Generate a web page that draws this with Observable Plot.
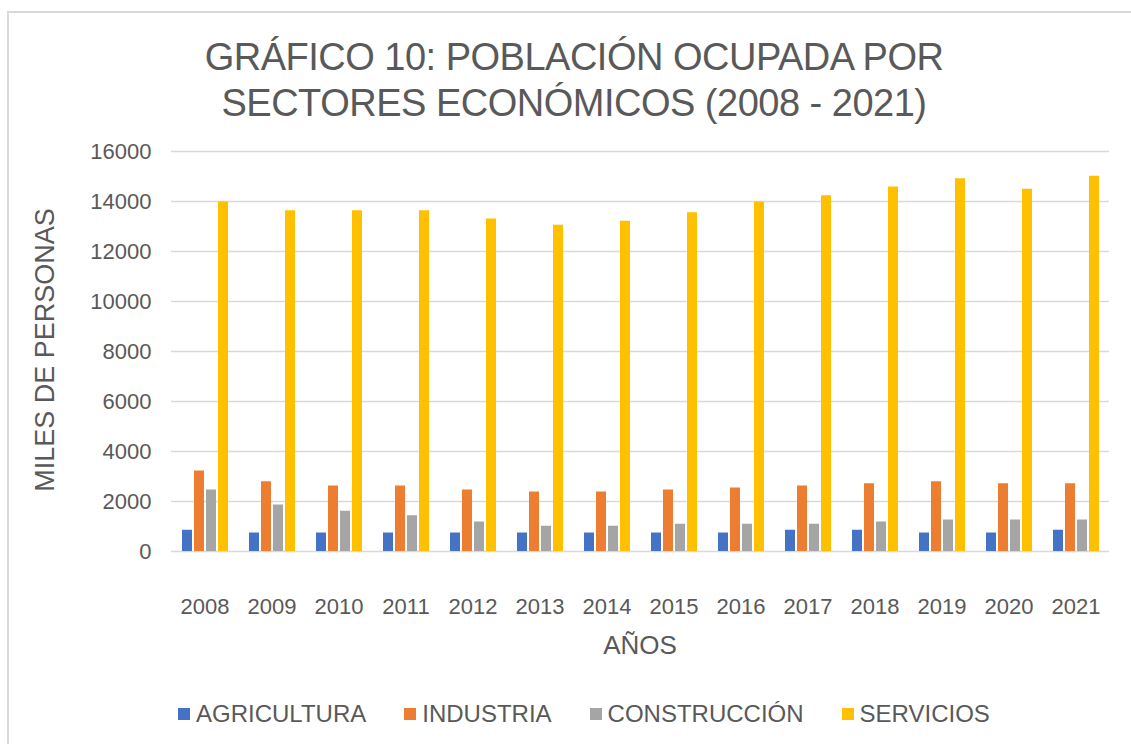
<!DOCTYPE html>
<html>
<head>
<meta charset="utf-8">
<script src="https://cdn.jsdelivr.net/npm/d3@7"></script>
<script src="https://cdn.jsdelivr.net/npm/@observablehq/plot@0.6"></script>
<style>
  html, body { margin: 0; padding: 0; background: #fff; }
  #wrap { position: relative; width: 1131px; height: 744px; overflow: hidden; font-family: "Liberation Sans", Arial, sans-serif; color: #595959; }
  #border { position: absolute; left: 7px; top: 11px; width: 1200px; height: 800px; border: 2px solid #d9d9d9; box-sizing: border-box; }
  #title { position: absolute; left: 0; top: 34px; width: 1148px; text-align: center; font-size: 38px; line-height: 46px; letter-spacing: -0.5px; }
  #ylabel { position: absolute; left: 45px; top: 350px; transform: translate(-50%, -50%) rotate(-90deg); font-size: 27px; white-space: nowrap; }
  #xlabel { position: absolute; left: 640px; top: 645px; transform: translate(-50%, -50%); font-size: 26px; white-space: nowrap; }
  #chart { position: absolute; left: 0; top: 140px; }
  #legend { position: absolute; left: 178px; top: 700px; display: flex; gap: 38px; font-size: 24px; align-items: center; }
  .item { display: flex; align-items: center; gap: 6px; }
  .sw { width: 12px; height: 12px; display: inline-block; }
</style>
</head>
<body>
<div id="wrap">
  <div id="border"></div>
  <div id="title">GRÁFICO 10: POBLACIÓN OCUPADA POR<br>SECTORES ECONÓMICOS (2008 - 2021)</div>
  <div id="ylabel">MILES DE PERSONAS</div>
  <div id="xlabel">AÑOS</div>
  <div id="chart"></div>
  <div id="legend"></div>
</div>
<script>
const years = ["2008","2009","2010","2011","2012","2013","2014","2015","2016","2017","2018","2019","2020","2021"];
const sectors = ["AGRICULTURA", "INDUSTRIA", "CONSTRUCCIÓN", "SERVICIOS"];
const colors = ["#4472C4", "#ED7D31", "#A5A5A5", "#FFC000"];
const agricultura  = [850, 740, 740, 740, 740, 740, 740, 740, 740, 850, 850, 740, 740, 850];
const industria    = [3220, 2790, 2620, 2620, 2460, 2380, 2380, 2460, 2540, 2620, 2710, 2790, 2710, 2710];
const construccion = [2460, 1860, 1610, 1430, 1180, 1010, 1010, 1090, 1090, 1090, 1180, 1260, 1260, 1260];
const servicios    = [13980, 13630, 13630, 13630, 13300, 13050, 13210, 13550, 13980, 14230, 14580, 14910, 14490, 15010];
const yTicks = [0, 2000, 4000, 6000, 8000, 10000, 12000, 14000, 16000];

const series = [agricultura, industria, construccion, servicios];
const data = years.flatMap((yr, i) => sectors.map((s, j) => ({year: yr, sector: s, value: series[j][i]})));

const chart = Plot.plot({
  width: 1131,
  height: 500,
  marginTop: 11,
  marginBottom: 89,
  marginLeft: 165,
  marginRight: 17,
  style: {fontFamily: "'Liberation Sans', Arial, sans-serif", fontSize: "22px", color: "#595959", background: "transparent"},
  fx: {domain: years, padding: 0, label: null, tickSize: 0, tickPadding: 47, axis: "bottom"},
  x: {domain: sectors, paddingInner: 0.17, paddingOuter: 0.8, axis: null},
  y: {domain: [0, 16000], ticks: yTicks, tickSize: 0, tickPadding: 20, label: null, tickFormat: d => String(d)},
  color: {domain: sectors, range: colors},
  marks: [
    Plot.gridY(yTicks, {stroke: "#d9d9d9", strokeOpacity: 1, strokeWidth: 1.5}),
    Plot.barY(data, {fx: "year", x: "sector", y: "value", fill: "sector"})
  ]
});
document.getElementById("chart").appendChild(chart);

const legend = document.getElementById("legend");
sectors.forEach((s, i) => {
  const it = document.createElement("div");
  it.className = "item";
  it.innerHTML = `<span class="sw" style="background:${colors[i]}"></span><span>${s}</span>`;
  legend.appendChild(it);
});
</script>
</body>
</html>
